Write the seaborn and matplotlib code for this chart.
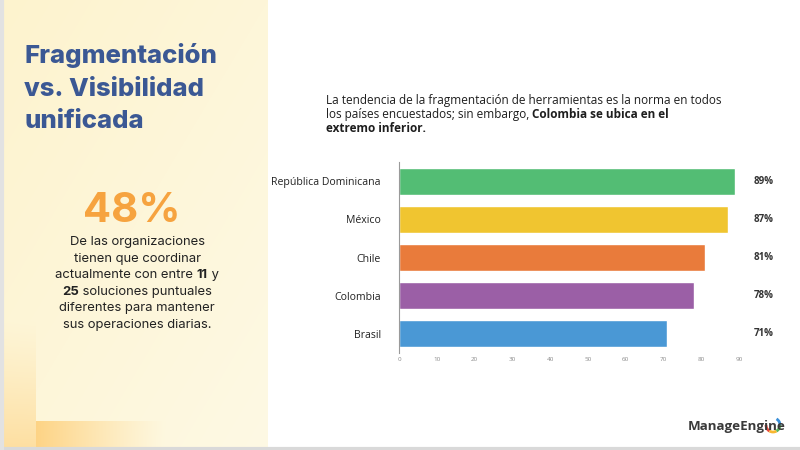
import numpy as np
import pandas as pd
import seaborn as sns
import matplotlib.pyplot as plt
from matplotlib.patches import Arc

# data
countries = ["República Dominicana", "México", "Chile", "Colombia", "Brasil"]
values = [89, 87, 81, 78, 71]
value_labels = ["89%", "87%", "81%", "78%", "71%"]
bar_colors = ["#53bd74", "#f0c530", "#e97b3b", "#9b5fa6", "#4a98d5"]
x_ticks = [0, 10, 20, 30, 40, 50, 60, 70, 80, 90]

title_lines = ["Fragmentación", "vs. Visibilidad", "unificada"]
big_stat = "48%"
body_lines = [
    [("De las organizaciones", "normal")],
    [("tienen que coordinar", "normal")],
    [("actualmente con entre ", "normal"), ("11", "bold"), (" y", "normal")],
    [("25", "bold"), (" soluciones puntuales", "normal")],
    [("diferentes para mantener", "normal")],
    [("sus operaciones diarias.", "normal")],
]
subtitle_lines = [
    [("La tendencia de la fragmentación de herramientas es la norma en todos", "normal")],
    [("los países encuestados; sin embargo, ", "normal"), ("Colombia se ubica en el", "bold")],
    [("extremo inferior.", "bold")],
]

df = pd.DataFrame({"country": countries, "value": values})

sns.set_theme(style="white")
plt.rcParams["font.family"] = ["Open Sans", "DejaVu Sans"]

fig = plt.figure(figsize=(8, 4.5), dpi=100)
fig.patch.set_facecolor("white")

# background / left panel
bg = fig.add_axes([0, 0, 1, 1])
bg.set_xlim(0, 800)
bg.set_ylim(450, 0)
bg.axis("off")

H, W = 447, 265
yy, xx = np.mgrid[0:H, 0:W]
t = (xx / W + yy / H) / 2
top = np.array([253, 243, 206]) / 255
bot = np.array([254, 249, 228]) / 255
img = top[None, None, :] * (1 - t[..., None]) + bot[None, None, :] * t[..., None]
orange = np.array([254, 200, 105]) / 255
ls = (xx < 33) * np.clip((yy - 320) / 127, 0, 1) ** 1.2 * 0.5
bs = (yy > 420) * (xx >= 33) * np.clip(1 - (xx - 33) / 130, 0, 1) ** 1.2 * 0.75
strip = np.maximum(ls, bs)
img = img * (1 - strip[..., None]) + orange[None, None, :] * strip[..., None]
bg.imshow(img, extent=(3, 3 + W, H, 0), aspect="auto", zorder=0)
bg.plot([0, 800], [448.5, 448.5], color="#d9d9d9", lw=3, zorder=1)
bg.plot([1.5, 1.5], [0, 450], color="#e2e2e2", lw=3, zorder=1)

renderer = fig.canvas.get_renderer()


def draw_segments(segs, x, y, ha, size, color, family):
    # x, y in pixels (y from top); draws mixed weight text on one baseline
    widths = []
    for txt, w in segs:
        tmp = fig.text(0, 0, txt, fontsize=size, fontweight=w, family=family)
        widths.append(tmp.get_window_extent(renderer).width)
        tmp.remove()
    total = sum(widths)
    start = x - total / 2 if ha == "center" else x
    for (txt, w), wd in zip(segs, widths):
        fig.text(start / 800, 1 - y / 450, txt, fontsize=size, fontweight=w,
                 family=family, color=color, va="baseline", ha="left")
        start += wd


left_font = ["Inter", "DejaVu Sans"]
for i, line in enumerate(title_lines):
    fig.text(24 / 800, 1 - (63 + i * 32.5) / 450, line, fontsize=18.5,
             fontweight="heavy", color="#3b5894", family=left_font, va="baseline")

fig.text(132 / 800, 1 - 222 / 450, big_stat, fontsize=30, fontweight="bold",
         color="#f6a33f", family=left_font, ha="center", va="baseline")

for i, segs in enumerate(body_lines):
    draw_segments(segs, 137, 245 + i * 16.6, "center", 9.4, "#222222", left_font)

for i, segs in enumerate(subtitle_lines):
    draw_segments(segs, 326, 104 + i * 14, "left", 8.5, "#1e1e1e",
                  ["Open Sans", "DejaVu Sans"])

# bar chart
ax = fig.add_axes([399 / 800, 1 - 353 / 450, 340 / 800, 191 / 450])
sns.barplot(data=df, x="value", y="country", hue="country", palette=bar_colors,
            legend=False, width=0.71, ax=ax, saturation=1)
ax.set_xlim(0, 90)
ax.set_ylim(4.5, -0.5)
ax.set_xticks(x_ticks)
ax.set_xticklabels([str(v) for v in x_ticks], fontsize=4.5, color="#8a8a8a")
ax.tick_params(axis="x", length=0, pad=3)
ax.tick_params(axis="y", length=0, pad=13, labelsize=7.6, labelcolor="#222222")
ax.set_xlabel("")
ax.set_ylabel("")
ax.set_facecolor("none")
for s in ["top", "right", "bottom"]:
    ax.spines[s].set_visible(False)
ax.spines["left"].set_color("#9a9a9a")
ax.spines["left"].set_linewidth(0.8)

for i, lab in enumerate(value_labels):
    ax.annotate(lab, xy=(1, i), xycoords=("axes fraction", "data"),
                xytext=(10.5, 0), textcoords="offset points", ha="left",
                va="center", fontsize=7, fontweight="bold", color="#333333",
                annotation_clip=False)

# logo
fig.text(688 / 800, 1 - 430 / 450, "ManageEngine", fontsize=9.6,
         fontweight="bold", color="#3a3a3a", family=["Open Sans", "DejaVu Sans"],
         va="baseline")
arc_colors = ["#e94b3c", "#f7b731", "#5cb85c", "#3a8fd8"]
for k, c in enumerate(arc_colors):
    bg.add_patch(Arc((773, 425), 14, 14, theta1=180 - (k + 1) * 60,
                     theta2=180 - k * 60, color=c, lw=2))

fig.savefig("out.png", dpi=100)
